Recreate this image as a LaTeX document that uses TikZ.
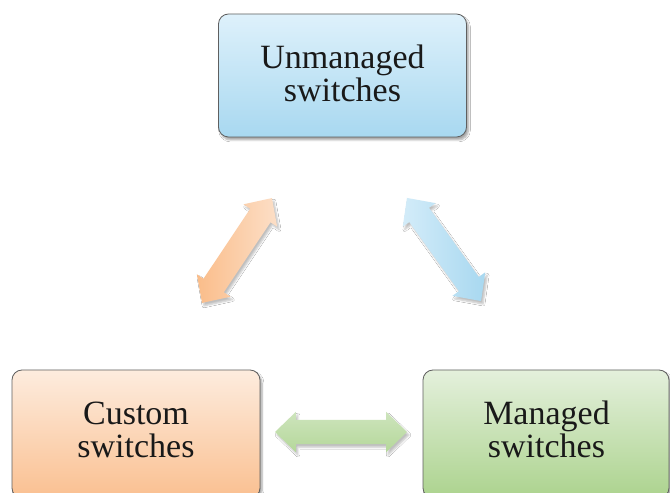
\documentclass[tikz,border=0pt]{standalone}
\usepackage{fontspec}
\setmainfont{Liberation Serif}
\usetikzlibrary{shapes.arrows,shadows.blur}
\definecolor{blueTop}{RGB}{222,241,251}
\definecolor{blueBot}{RGB}{168,216,240}
\definecolor{orTop}{RGB}{253,236,222}
\definecolor{orBot}{RGB}{250,192,145}
\definecolor{grTop}{RGB}{228,240,220}
\definecolor{grBot}{RGB}{172,211,142}
\definecolor{edge}{RGB}{95,95,95}
\tikzset{
  box/.style={draw=edge, line width=0.8pt, rounded corners=10pt,
    minimum width=248pt, minimum height=123pt, inner sep=0pt,
    blur shadow={shadow xshift=2pt, shadow yshift=-3pt, shadow blur steps=6, shadow opacity=35}},
  label/.style={font=\fontsize{34}{33}\selectfont, align=center, inner sep=0pt, text=black!90},
  dbl/.style={double arrow, draw=none, inner xsep=0pt, inner ysep=12pt,
    text height=0pt, text depth=0pt,
    double arrow head extend=8pt, double arrow tip angle=88,
    blur shadow={shadow xshift=2pt, shadow yshift=-3pt, shadow blur steps=5, shadow opacity=25}},
}
\begin{document}
\begin{tikzpicture}[x=1pt,y=1pt]
\useasboundingbox (0,0) rectangle (670,493);
\clip (0,0) rectangle (670,493);
\fill[white] (0,0) rectangle (670,493);

% the three switch categories
\node[box, top color=blueTop, bottom color=blueBot] (unm) at (342.5,417.5) {};
\node[box, top color=orTop, bottom color=orBot, minimum width=248pt, minimum height=128pt] (cus) at (136,59) {};
\node[box, top color=grTop, bottom color=grBot, minimum width=246pt, minimum height=128pt] (man) at (546,59) {};

\node[label] (unmT) at (342.5,420) {Unmanaged\\switches};
\node[label] (cusT) at (136,63.5) {Custom\\switches};
\node[label] (manT) at (546.5,63.5) {Managed\\switches};

% two-way arrows between the categories
\node[dbl, rotate=56.3, minimum height=126pt, left color=orBot!95!orange, right color=orTop!70!orBot] (a1) at (237,242.5) {};
\node[dbl, rotate=-54.3, minimum height=127pt, left color=blueTop!80!blueBot, right color=blueBot] (a2) at (444,243.5) {};
\node[dbl, minimum height=132pt, top color=grTop!60!grBot, bottom color=grBot!85!grTop] (a3) at (341,61) {};
\end{tikzpicture}
\end{document}
